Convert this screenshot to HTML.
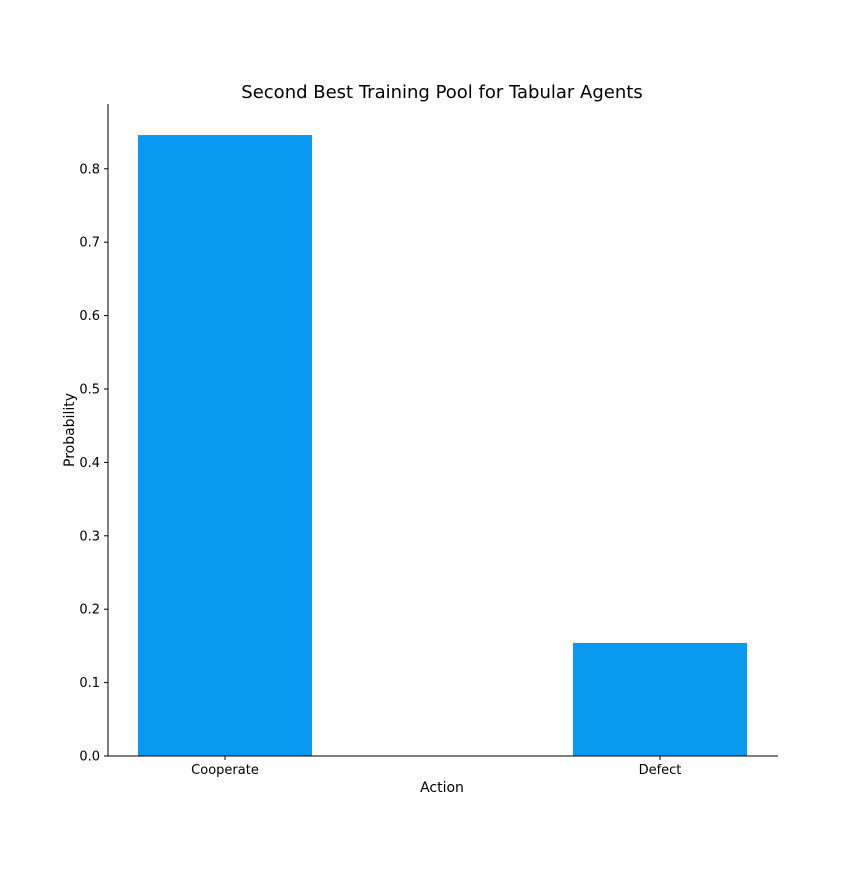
<!DOCTYPE html>
<html><head><meta charset="utf-8"><style>
body{margin:0;background:#fff;}
svg text{font-family:"DejaVu Sans","Liberation Sans",sans-serif;fill:#000;}
</style></head><body>
<svg id="chart" width="864" height="864">
<text x="442" y="98" text-anchor="middle" font-size="18">Second Best Training Pool for Tabular Agents</text>
<g id="bars"></g>
<g id="yaxis"></g>
<g id="xaxis"></g>
<line x1="108" y1="104" x2="108" y2="756" stroke="#000" stroke-width="1"/>
<line x1="108" y1="756" x2="778" y2="756" stroke="#000" stroke-width="1"/>
<text x="442" y="792" text-anchor="middle" font-size="14">Action</text>
<text transform="translate(74,430) rotate(-90)" text-anchor="middle" font-size="14">Probability</text>
</svg>
<script>
const categories=["Cooperate","Defect"];
const values=[0.846,0.154];
const yTicks=[0,0.1,0.2,0.3,0.4,0.5,0.6,0.7,0.8];
const yTickLabels=["0.0","0.1","0.2","0.3","0.4","0.5","0.6","0.7","0.8"];
const NS="http://www.w3.org/2000/svg";
function y(v){return 756-v*734;}
function x(i){return 225+i*435;}
const bw=0.4*435;
const bars=document.getElementById('bars'),ya=document.getElementById('yaxis'),xa=document.getElementById('xaxis');
categories.forEach((c,i)=>{
  const r=document.createElementNS(NS,'rect');
  r.setAttribute('x',x(i)-bw/2);r.setAttribute('width',bw);
  r.setAttribute('y',y(values[i]));r.setAttribute('height',756-y(values[i]));
  r.setAttribute('fill','#0a99f2');
  
  
  bars.appendChild(r);
  const t=document.createElementNS(NS,'line');
  t.setAttribute('x1',x(i));t.setAttribute('x2',x(i));t.setAttribute('y1',756);t.setAttribute('y2',760);t.setAttribute('stroke','#000');
  
  
  xa.appendChild(t);
  const l=document.createElementNS(NS,'text');
  l.setAttribute('x',x(i));l.setAttribute('y',774);l.setAttribute('text-anchor','middle');l.setAttribute('font-size','13');
  l.textContent=c;
  
  
  xa.appendChild(l);
});
yTicks.forEach((v,i)=>{
  const t=document.createElementNS(NS,'line');
  t.setAttribute('x1',104);t.setAttribute('x2',108);t.setAttribute('y1',y(v));t.setAttribute('y2',y(v));t.setAttribute('stroke','#000');
  
  
  ya.appendChild(t);
  const l=document.createElementNS(NS,'text');
  l.setAttribute('x',100);l.setAttribute('y',y(v)+4.5);l.setAttribute('text-anchor','end');l.setAttribute('font-size','13');
  l.textContent=yTickLabels[i];
  
  
  ya.appendChild(l);
});
</script>
</body></html>
